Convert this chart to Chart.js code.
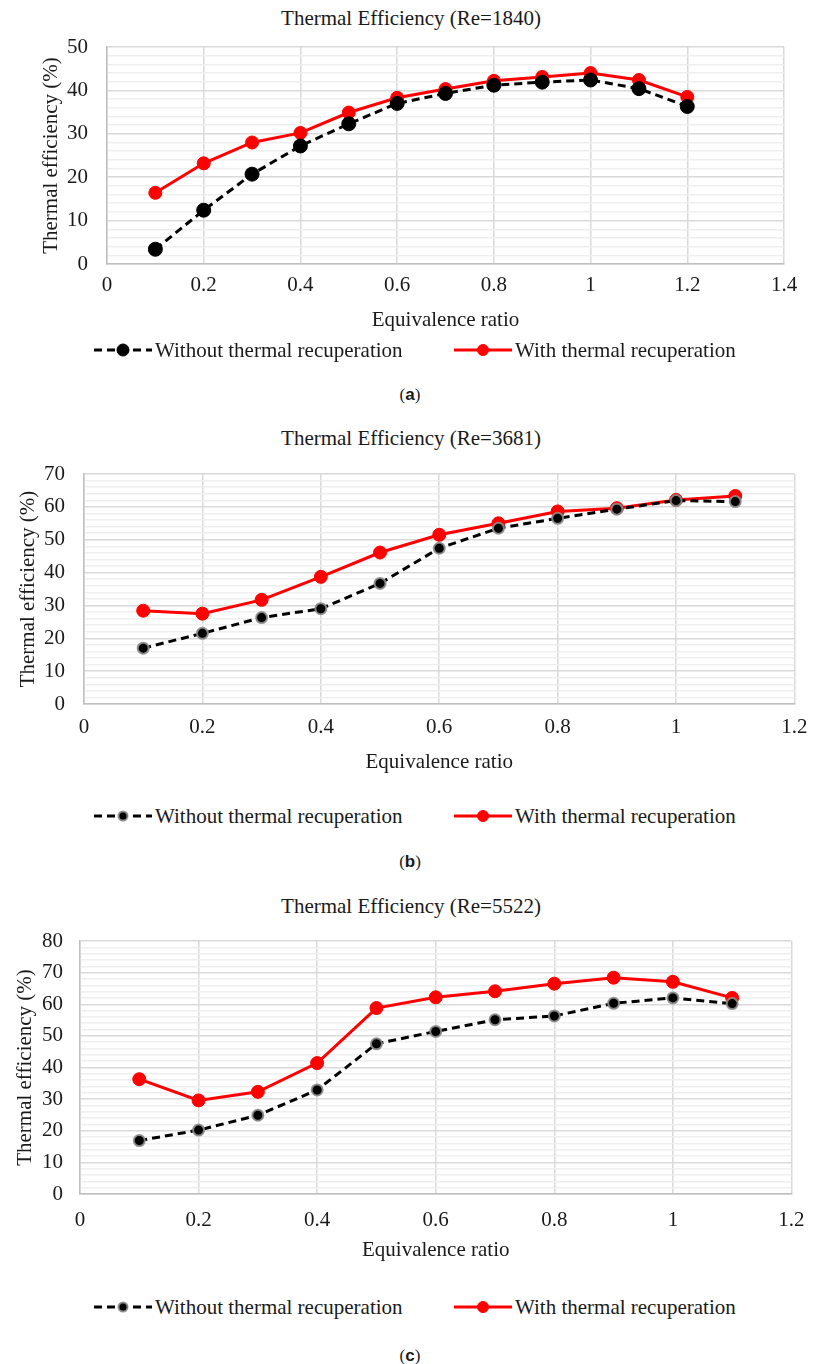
<!DOCTYPE html>
<html>
<head>
<meta charset="utf-8">
<title>Thermal Efficiency</title>
<script src="https://cdn.jsdelivr.net/npm/chart.js@4.4.1/dist/chart.umd.min.js"></script>
<style>
  body { margin: 0; background: #fff; }
  #page { position: relative; width: 818px; height: 1364px; font-family: "Liberation Serif", "Times New Roman", serif; color: #1a1a1a; }
  #page canvas.plot { position: absolute; left: 0; }
  .heading { position: absolute; left: 0; width: 822px; text-align: center; font-size: 21px; line-height: 26px; }
  .legend { position: absolute; left: 0; width: 818px; height: 30px; font-size: 21px; }
  .legend .item { position: absolute; top: 0; height: 30px; display: flex; align-items: center; white-space: nowrap; }
  .legend .item canvas { margin-right: 2px; }
  .caption { position: absolute; left: 0; width: 820px; text-align: center; font-size: 17px; line-height: 20px; }
</style>
</head>
<body>
<div id="page"></div>
<script>
// equivalence ratios
const PHI_A = [0.1, 0.2, 0.3, 0.4, 0.5, 0.6, 0.7, 0.8, 0.9, 1.0, 1.1, 1.2];
const PHI_BC = [0.1, 0.2, 0.3, 0.4, 0.5, 0.6, 0.7, 0.8, 0.9, 1.0, 1.1];

// thermal efficiency (%), Re = 1840
const WITHOUT_A = [3.4, 12.4, 20.7, 27.2, 32.3, 37.0, 39.3, 41.2, 41.9, 42.4, 40.4, 36.3];
const WITH_A = [16.4, 23.2, 28.0, 30.2, 34.9, 38.3, 40.3, 42.2, 43.1, 44.0, 42.4, 38.5];

// Re = 3681
const WITHOUT_B = [17.0, 21.5, 26.3, 29.0, 36.7, 47.4, 53.5, 56.5, 59.3, 61.9, 61.6];
const WITH_B = [28.4, 27.5, 31.7, 38.7, 46.1, 51.5, 55.0, 58.6, 59.6, 62.1, 63.3];

// Re = 5522
const WITHOUT_C = [16.9, 20.2, 24.9, 32.9, 47.5, 51.4, 55.1, 56.3, 60.3, 62.0, 60.2];
const WITH_C = [36.3, 29.6, 32.3, 41.4, 58.8, 62.2, 64.1, 66.5, 68.4, 67.1, 62.0];

const TITLES = ['Thermal Efficiency (Re=1840)', 'Thermal Efficiency (Re=3681)', 'Thermal Efficiency (Re=5522)'];
const CAPTIONS = ['a', 'b', 'c'];
const SERIES_LABELS = ['Without thermal recuperation', 'With thermal recuperation'];
const X_MAX = [1.4, 1.2, 1.2];
const Y_MAX = [50, 70, 80];
const X_TITLE = 'Equivalence ratio';
const Y_TITLE = 'Thermal efficiency (%)';

const FONT = '"Liberation Serif", "Times New Roman", serif';
const FS = 21;
const LH = FS * 1.2;
Chart.defaults.font.family = FONT;
Chart.defaults.font.size = FS;
Chart.defaults.color = '#1a1a1a';

const page = document.getElementById('page');

// pixel layout of each panel on the page
const layouts = [
  { titleY: 18, top: 47, bottom: 264, left: 107, right: 784, tickY: 285, xTitleY: 320, yTitleX: 51, yTickRight: 88, legendY: 350, captionY: 395, halo: false },
  { titleY: 438, top: 474, bottom: 704, left: 84, right: 799, tickY: 727, xTitleY: 762, yTitleX: 28, yTickRight: 65, legendY: 816, captionY: 862, halo: true },
  { titleY: 906, top: 941, bottom: 1194, left: 80, right: 803, tickY: 1220, xTitleY: 1250, yTitleX: 25, yTickRight: 63, legendY: 1307, captionY: 1356, halo: true }
];

const seriesSets = [
  [PHI_A, WITHOUT_A, WITH_A],
  [PHI_BC, WITHOUT_B, WITH_B],
  [PHI_BC, WITHOUT_C, WITH_C]
];

function points(xs, ys) {
  return xs.map((x, i) => ({ x: x, y: ys[i] }));
}

function drawSample(ds) {
  const c = document.createElement('canvas');
  c.width = 60; c.height = 20;
  const g = c.getContext('2d');
  g.strokeStyle = ds.borderColor;
  g.lineWidth = ds.borderWidth;
  g.setLineDash(ds.borderDash || []);
  g.beginPath();
  g.moveTo(1, 10); g.lineTo(59, 10);
  g.stroke();
  g.setLineDash([]);
  g.beginPath();
  g.arc(30, 10, ds.pointRadius - 1, 0, Math.PI * 2);
  g.fillStyle = ds.pointBackgroundColor;
  g.fill();
  if (ds.pointBorderWidth) {
    g.lineWidth = ds.pointBorderWidth;
    g.strokeStyle = ds.pointBorderColor;
    g.stroke();
  }
  return c;
}

layouts.forEach((L, k) => {
  const [xs, without, withRec] = seriesSets[k];
  // leave room above the plot for the top tick label plus its padding
  const canvasTop = L.top - 40;
  const canvasBottom = L.xTitleY + 16;
  const h = canvasBottom - canvasTop;

  const head = document.createElement('div');
  head.className = 'heading';
  head.style.top = (L.titleY - 13) + 'px';
  head.textContent = TITLES[k];
  page.appendChild(head);

  const canvas = document.createElement('canvas');
  canvas.className = 'plot';
  canvas.width = 818;
  canvas.height = h;
  canvas.style.top = canvasTop + 'px';
  page.appendChild(canvas);

  const chart = new Chart(canvas, {
    type: 'line',
    data: {
      datasets: [
        {
          label: SERIES_LABELS[0],
          data: points(xs, without),
          borderColor: '#000',
          borderWidth: 3,
          borderDash: [8, 5],
          pointRadius: L.halo ? 5.5 : 7,
          pointBackgroundColor: '#000',
          pointBorderColor: L.halo ? 'rgba(140,140,140,0.9)' : '#000',
          pointBorderWidth: L.halo ? 2 : 1,
          tension: 0
        },
        {
          label: SERIES_LABELS[1],
          data: points(xs, withRec),
          borderColor: '#ff0000',
          borderWidth: 3,
          pointRadius: 6.5,
          pointBackgroundColor: '#ff0000',
          pointBorderColor: '#ff0000',
          pointBorderWidth: 1,
          tension: 0
        }
      ]
    },
    options: {
      responsive: false,
      animation: false,
      events: [],
      layout: { padding: { left: 0, right: 818 - L.right, top: L.top - canvasTop, bottom: 0 } },
      plugins: {
        legend: { display: false },
        tooltip: { enabled: false },
        title: { display: false }
      },
      scales: {
        x: {
          type: 'linear',
          min: 0,
          max: X_MAX[k],
          afterFit: s => { s.height = canvasBottom - L.bottom; },
          ticks: {
            stepSize: 0.2,
            padding: L.tickY - L.bottom - LH / 2,
            maxRotation: 0,
            autoSkip: false,
            callback: v => String(Math.round(v * 10) / 10)
          },
          grid: { color: '#d9d9d9', lineWidth: 1.5, drawTicks: false },
          border: { color: '#bfbfbf', width: 1.5 },
          title: {
            display: true,
            text: X_TITLE,
            padding: { top: 0, bottom: canvasBottom - L.xTitleY - LH / 2 }
          }
        },
        y: {
          min: 0,
          max: Y_MAX[k],
          afterFit: s => { s.width = L.left; },
          ticks: {
            stepSize: 2,
            autoSkip: false,
            padding: L.left - L.yTickRight,
            callback: v => (v % 10 === 0 ? String(v) : '')
          },
          grid: {
            drawTicks: false,
            color: c => (c.tick && c.tick.value % 10 === 0 ? '#d9d9d9' : '#efefef'),
            lineWidth: 1.5
          },
          border: { color: '#bfbfbf', width: 1.5 },
          title: {
            display: true,
            text: Y_TITLE,
            padding: { top: L.yTitleX - LH / 2, bottom: 0 }
          }
        }
      }
    }
  });

  // legend row below the axis title
  const legend = document.createElement('div');
  legend.className = 'legend';
  legend.style.top = (L.legendY - 15) + 'px';
  const starts = [93, 453];
  chart.data.datasets.forEach((ds, i) => {
    const item = document.createElement('div');
    item.className = 'item';
    item.style.left = starts[i] + 'px';
    item.appendChild(drawSample(ds));
    const txt = document.createElement('span');
    txt.textContent = ds.label;
    item.appendChild(txt);
    legend.appendChild(item);
  });
  page.appendChild(legend);

  const cap = document.createElement('div');
  cap.className = 'caption';
  cap.style.top = (L.captionY - 10) + 'px';
  cap.innerHTML = '(<b style="font-family:\'Liberation Sans\',Arial,sans-serif">' + CAPTIONS[k] + '</b>)';
  page.appendChild(cap);
});
</script>
</body>
</html>
